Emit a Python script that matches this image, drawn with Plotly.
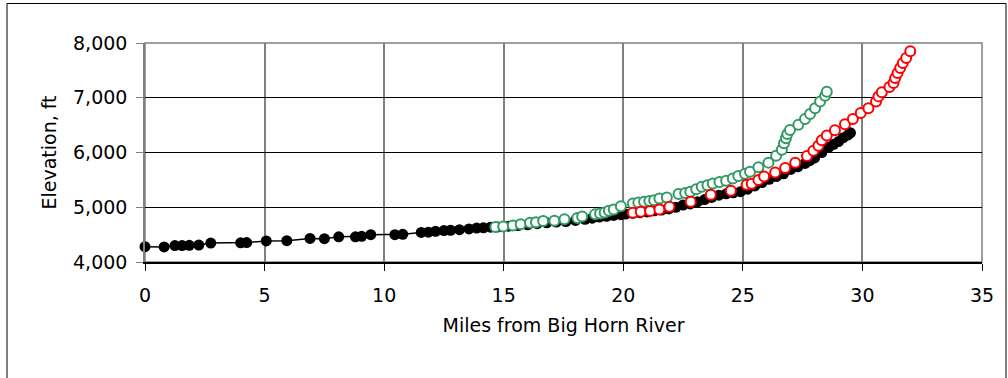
import plotly.graph_objects as go

# Black series (filled markers with line)
black_miles = [0, 0.8, 1.25, 1.55, 1.85, 2.25, 2.75, 4.0, 4.25, 5.07, 5.93, 6.9, 7.5, 8.1,
               8.8, 9.06, 9.44, 10.45, 10.78, 11.55, 11.85, 12.15, 12.5, 12.78, 13.15, 13.55,
               13.87, 14.15, 14.45, 14.75, 15.2, 15.6, 16.0, 16.4, 16.8, 17.2, 17.6, 18.0,
               18.4, 18.7, 19.0, 19.3, 19.6, 19.9, 20.1, 20.4, 20.7, 21.0, 21.3, 21.6, 21.9,
               22.2, 22.5, 22.8, 23.1, 23.4, 23.7, 24.0, 24.3, 24.6, 24.9, 25.2, 25.5, 25.8,
               26.1, 26.4, 26.7, 27.0, 27.3, 27.6, 27.8, 28.0, 28.3, 28.6, 28.8, 29.0, 29.2,
               29.4, 29.5]
black_elev = [4280, 4275, 4300, 4300, 4305, 4310, 4345, 4350, 4355, 4385, 4390, 4430, 4425,
              4460, 4460, 4470, 4500, 4500, 4505, 4540, 4545, 4560, 4575, 4580, 4590, 4605,
              4620, 4625, 4635, 4640, 4655, 4665, 4680, 4700, 4715, 4730, 4740, 4760, 4780,
              4800, 4820, 4835, 4850, 4865, 4875, 4890, 4900, 4915, 4935, 4950, 4970, 5000,
              5040, 5060, 5100, 5140, 5180, 5220, 5245, 5265, 5285, 5330, 5390, 5450, 5510,
              5560, 5610, 5690, 5740, 5800, 5850, 5900, 6000, 6100, 6150, 6200, 6270, 6320,
              6360]

# Green series (open markers)
green_miles = [14.65, 14.98, 15.38, 15.71, 16.1, 16.35, 16.65, 17.12, 17.54, 18.08, 18.28,
               18.82, 19.03, 19.22, 19.4, 19.6, 19.9, 20.4, 20.63, 20.87, 21.09, 21.29, 21.51,
               21.82, 22.31, 22.59, 22.8, 23.05, 23.28, 23.52, 23.74, 24.02, 24.3, 24.58,
               24.81, 25.09, 25.3, 25.65, 26.07, 26.39, 26.63, 26.72, 26.8, 26.86, 26.97,
               27.32, 27.6, 27.81, 28.02, 28.23, 28.44, 28.51]
green_elev = [4640, 4650, 4665, 4690, 4715, 4725, 4750, 4755, 4780, 4805, 4830, 4870, 4885,
              4905, 4935, 4960, 5020, 5070, 5085, 5100, 5115, 5130, 5160, 5180, 5240, 5260,
              5285, 5330, 5375, 5400, 5435, 5460, 5485, 5525, 5570, 5610, 5650, 5730, 5815,
              5940, 6050, 6170, 6260, 6340, 6410, 6505, 6610, 6705, 6810, 6930, 7035, 7110]

# Red series (open markers)
red_miles = [20.4, 20.73, 21.12, 21.51, 21.93, 22.82, 23.66, 24.5, 25.16, 25.37, 25.65, 25.89,
             26.35, 26.77, 27.19, 27.68, 27.95, 28.16, 28.3, 28.51, 28.85, 29.27, 29.6, 29.93,
             30.25, 30.57, 30.67, 30.81, 31.13, 31.3, 31.37, 31.47, 31.58, 31.69, 31.83, 32.0]
red_elev = [4900, 4920, 4930, 4960, 5010, 5100, 5230, 5300, 5410, 5430, 5500, 5560, 5635,
            5715, 5815, 5935, 6030, 6125, 6225, 6310, 6405, 6515, 6610, 6720, 6810, 6930,
            7025, 7100, 7195, 7270, 7360, 7450, 7545, 7635, 7725, 7850]

x_title = "Miles from Big Horn River"
y_title = "Elevation, ft"

FONT = "DejaVu Sans"
FS = 19

fig = go.Figure()
fig.add_trace(go.Scatter(
    x=black_miles, y=black_elev, mode="lines+markers",
    line=dict(color="black", width=1.5),
    marker=dict(color="black", size=11, line=dict(width=0)),
    showlegend=False, cliponaxis=False))
fig.add_trace(go.Scatter(
    x=green_miles, y=green_elev, mode="markers",
    marker=dict(color="white", size=10, line=dict(color="#339966", width=2)),
    showlegend=False, cliponaxis=False))
fig.add_trace(go.Scatter(
    x=red_miles, y=red_elev, mode="markers",
    marker=dict(color="white", size=10, line=dict(color="#FF0000", width=2)),
    showlegend=False, cliponaxis=False))

fig.update_xaxes(
    range=[0, 35], dtick=5, tick0=0,
    showgrid=True, gridcolor="#808080", gridwidth=1.5,
    showline=True, linecolor="black", linewidth=1.5,
    ticks="outside", ticklen=7, tickcolor="black", tickwidth=1,
    ticklabelstandoff=8,
    zeroline=False,
    tickfont=dict(family=FONT, size=FS, color="black"),
    title=dict(text=x_title, font=dict(family=FONT, size=FS, color="black"), standoff=14),
)
fig.update_yaxes(
    range=[4000, 8000], dtick=1000, tick0=4000, tickformat=",d",
    showgrid=True, gridcolor="black", gridwidth=1,
    showline=True, linecolor="#808080", linewidth=1.5,
    ticks="outside", ticklen=7, tickcolor="#808080", tickwidth=1,
    ticklabelstandoff=5,
    zeroline=False,
    tickfont=dict(family=FONT, size=FS, color="black"),
    title=dict(text=y_title, font=dict(family=FONT, size=FS, color="black"), standoff=11),
)

# plot area border (top/right) and outer chart frame
fig.add_shape(type="rect", xref="paper", yref="paper", x0=0, y0=0, x1=1, y1=1,
              line=dict(color="#808080", width=1.5), layer="below")
fig.add_shape(type="rect", xref="paper", yref="paper",
              x0=(7 - 145) / 837, x1=(1006 - 145) / 837,
              y0=(262 - 420) / 219, y1=(262 - 3.5) / 219,
              line=dict(color="black", width=1), layer="below")

fig.update_layout(
    width=1008, height=378,
    margin=dict(l=145, r=26, t=43, b=116),
    paper_bgcolor="white", plot_bgcolor="white",
    font=dict(family=FONT, size=FS, color="black"),
)

fig.write_html("out.html", config={"displayModeBar": False},
               post_script="document.body.style.margin='0';")
